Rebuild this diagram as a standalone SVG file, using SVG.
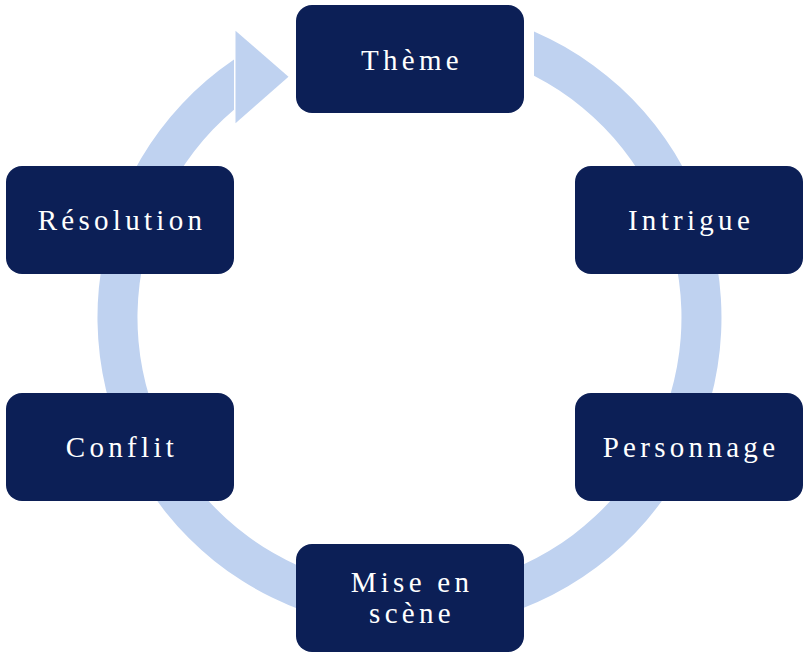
<svg xmlns="http://www.w3.org/2000/svg" width="810" height="653" viewBox="0 0 810 653">
  <style>
    .box { fill: #0C1F56; }
    .lbl { fill: #FFFFFF; font-family: "Liberation Serif", "DejaVu Serif", serif; font-size: 29px; letter-spacing: 4.3px; text-anchor: middle; }
    .ring { fill: #BFD2F0; }
  </style>
  <rect width="810" height="653" fill="#FFFFFF"/>
  <g id="connectors">
    <path class="ring" d="M534,31.4 A312,312 0 1 1 234,59.5 L234,109.7 A272,272 0 1 0 534,75.7 Z"/>
    <polygon class="ring" points="235.5,30.7 288.5,76.7 235.5,123.3"/>
  </g>
  <g id="node-theme">
    <rect class="box" x="296" y="5" width="228" height="108" rx="16"/>
    <text class="lbl" x="412" y="70">Thème</text>
  </g>
  <g id="node-intrigue">
    <rect class="box" x="575" y="166" width="228" height="108" rx="16"/>
    <text class="lbl" x="691" y="230">Intrigue</text>
  </g>
  <g id="node-personnage">
    <rect class="box" x="575" y="393" width="228" height="108" rx="16"/>
    <text class="lbl" x="691" y="457">Personnage</text>
  </g>
  <g id="node-mise-en-scene">
    <rect class="box" x="296" y="544" width="228" height="108" rx="16"/>
    <text class="lbl" x="412" y="592">Mise en</text>
    <text class="lbl" x="412" y="623">scène</text>
  </g>
  <g id="node-conflit">
    <rect class="box" x="6" y="393" width="228" height="108" rx="16"/>
    <text class="lbl" x="122" y="457">Conflit</text>
  </g>
  <g id="node-resolution">
    <rect class="box" x="6" y="166" width="228" height="108" rx="16"/>
    <text class="lbl" x="122" y="230">Résolution</text>
  </g>
</svg>
